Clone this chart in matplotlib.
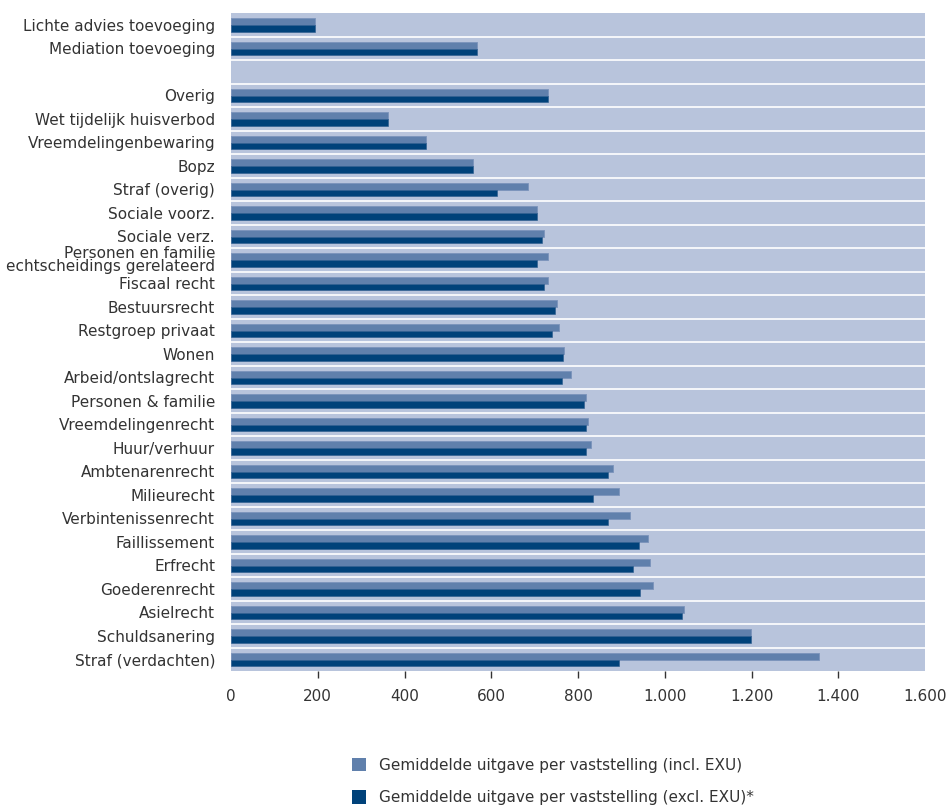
import numpy as np
import matplotlib
matplotlib.use("Agg")
import matplotlib.pyplot as plt
from matplotlib.patches import Patch

categories = [
    "Lichte advies toevoeging",
    "Mediation toevoeging",
    "",
    "Overig",
    "Wet tijdelijk huisverbod",
    "Vreemdelingenbewaring",
    "Bopz",
    "Straf (overig)",
    "Sociale voorz.",
    "Sociale verz.",
    "Personen en familie\nechtscheidings gerelateerd",
    "Fiscaal recht",
    "Bestuursrecht",
    "Restgroep privaat",
    "Wonen",
    "Arbeid/ontslagrecht",
    "Personen & familie",
    "Vreemdelingenrecht",
    "Huur/verhuur",
    "Ambtenarenrecht",
    "Milieurecht",
    "Verbintenissenrecht",
    "Faillissement",
    "Erfrecht",
    "Goederenrecht",
    "Asielrecht",
    "Schuldsanering",
    "Straf (verdachten)",
]

incl_exu = [194, 567, np.nan, 731, 362, 450, 558, 685, 706, 721, 731, 731, 752, 757,
            767, 783, 819, 824, 829, 880, 895, 921, 962, 967, 972, 1044, 1198, 1356]
excl_exu = [194, 567, np.nan, 731, 362, 450, 558, 614, 706, 716, 706, 721, 747, 741,
            766, 763, 814, 819, 819, 870, 834, 870, 941, 926, 942, 1039, 1198, 895]

xticks = [0, 200, 400, 600, 800, 1000, 1200, 1400, 1600]
xticklabels = ["0", "200", "400", "600", "800", "1.000", "1.200", "1.400", "1.600"]

legend_labels = ["Gemiddelde uitgave per vaststelling (incl. EXU)",
                 "Gemiddelde uitgave per vaststelling (excl. EXU)*"]

c_bg = "#b8c4dc"
c_light = "#6080ac"
c_dark = "#00427a"
c_text = "#333333"

plt.rcParams["font.family"] = ["DejaVu Sans"]

fig = plt.figure(figsize=(9.46, 8.08), dpi=100)
ax = fig.add_axes([231 / 946, 1 - 671 / 808, 694 / 946, 658 / 808])
ax.set_facecolor(c_bg)

y = np.arange(len(categories))
ax.barh(y - 0.125, incl_exu, height=0.29, color=c_light, edgecolor="#7b93bb",
        linewidth=0.6, zorder=3)
ax.barh(y + 0.165, excl_exu, height=0.28, color=c_dark, edgecolor="#2a5a8c",
        linewidth=0.4, zorder=4)

for k in range(len(categories) - 1):
    ax.axhline(k + 0.5, color="white", lw=1.2, zorder=2)

ax.set_ylim(len(categories) - 0.5, -0.5)
ax.set_xlim(0, 1600)

ax.set_yticks(y)
ax.set_yticklabels(categories, fontsize=11, color=c_text, linespacing=0.85)
ax.tick_params(axis="y", length=0, pad=11.5)

ax.set_xticks(xticks)
ax.set_xticklabels(xticklabels, fontsize=11, color=c_text)
ax.tick_params(axis="x", length=5, width=1, color=c_text, pad=8)
ticks = ax.xaxis.get_major_ticks()
ticks[0].tick1line.set_visible(False)
ticks[-1].tick1line.set_visible(False)

for s in ax.spines.values():
    s.set_visible(False)

handles = [Patch(facecolor=c_light, edgecolor="none"),
           Patch(facecolor=c_dark, edgecolor="none")]
fig.legend(handles, legend_labels, loc="upper left",
           bbox_to_anchor=(344 / 946, 1 - 750 / 808), frameon=False,
           fontsize=11, handlelength=0.95, handleheight=0.95,
           handletextpad=0.85, labelspacing=1.15, borderpad=0,
           labelcolor=c_text)

fig.savefig("out.png", dpi=100)
